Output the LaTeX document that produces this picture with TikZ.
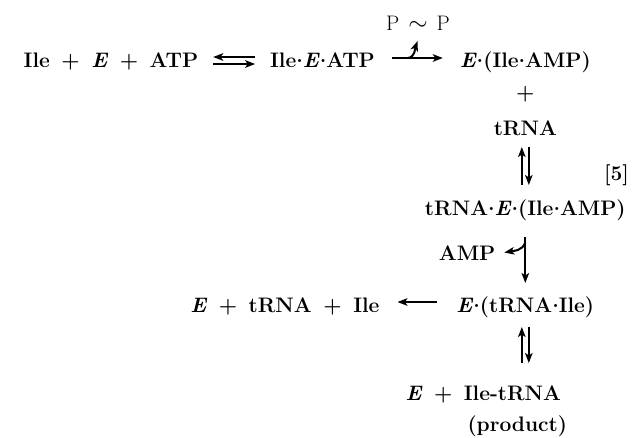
\documentclass[tikz,border=0pt]{standalone}
\usepackage{tikz}
\usetikzlibrary{arrows.meta,positioning}
\tikzset{
  node distance=0pt,
  >={Stealth[length=10pt,width=7.5pt,inset=2.5pt]},
  every node/.style={outer sep=0pt,inner sep=0pt}
}
\tikzset{species/.style={
    font=\fontsize{21}{25}\selectfont\bfseries,
    text height=15pt,
    text depth=5pt
  }}
\tikzset{minor/.style={
    font=\fontsize{21}{25}\selectfont,
    text height=14pt,
    text depth=4pt
  }}
\tikzset{rxn/.style={line width=2pt,->}}
\newcommand\rplus{\hspace{0.55em}+\hspace{0.55em}}
\newcommand\dt{\raisebox{0.22em}{.}}

\begin{document}
\begin{tikzpicture}
  \useasboundingbox (0,0) rectangle (643pt,-437pt);

  \node (ileE) [species] at (322.5pt,-62pt) {Ile\dt\textit{E}\dt ATP};
  \node (reactants) [species,left=72pt of ileE] {Ile\rplus\textit{E}\rplus ATP};
  \node (eIleAMP) [species,right=85pt of ileE] {\textit{E}\dt(Ile\dt AMP)};
  \node (ppi) [minor] at (418pt,-25pt) {P\hspace{9pt}{\fontsize{30}{30}\selectfont$\sim$}\hspace{9pt}P};

  \node (plus) [species,below=12pt of eIleAMP] {+};
  \node (tRNA) [species,below=16pt of plus] {tRNA};
  \node (trnaE) [species,below=60pt of tRNA] {tRNA\dt\textit{E}\dt(Ile\dt AMP)};
  \node (step5) [species] at (616.5pt,-175pt) {[5]};
  \node (eTrnaIle) [species,below=77pt of trnaE] {\textit{E}\dt(tRNA\dt Ile)};
  \node (products) [species,left=77pt of eTrnaIle] {\textit{E}\rplus tRNA\rplus Ile};
  \node (ileTRNA) [species,below=68pt of eTrnaIle,xshift=-42pt] {\textit{E}\rplus Ile-tRNA};
  \node (product) [species,below=11pt of ileTRNA,xshift=34pt] {(product)};

  % binding of Ile and ATP
  \draw [rxn] ([xshift=-15pt,yshift=5pt] ileE.west) -- ([xshift=15pt,yshift=5pt] reactants.east);
  \draw [rxn] ([xshift=15pt,yshift=-2pt] reactants.east) -- ([xshift=-15pt,yshift=-2pt] ileE.west);

  % activation, pyrophosphate leaves
  \draw [rxn] ([xshift=17pt,yshift=4pt] ileE.east)
  -- coordinate[pos=0.31] (ppiFork) ([xshift=-17pt,yshift=4pt] eIleAMP.west);
  \coordinate (ppiTip) at ([xshift=10pt,yshift=17pt] ppiFork);
  \draw [rxn] (ppiFork) to[out=5,in=-110] (ppiTip);

  % tRNA binding
  \draw [rxn] ([xshift=-3.5pt,yshift=15pt] trnaE.north) -- ([xshift=-3.5pt,yshift=-7pt] tRNA.south);
  \draw [rxn] ([xshift=3.5pt,yshift=-7pt] tRNA.south) -- ([xshift=3.5pt,yshift=15pt] trnaE.north);

  % transfer, AMP leaves
  \draw [rxn] ([yshift=-17pt] trnaE.south)
  -- coordinate[pos=0.12] (ampFork) ([yshift=14pt] eTrnaIle.north);
  \coordinate (ampTip) at ([xshift=-21pt,yshift=-10pt] ampFork);
  \draw [rxn] (ampFork) to[out=-110,in=10] (ampTip);
  \node (amp) [species,left=9pt of ampTip,yshift=-3pt] {AMP};

  % breakdown
  \draw [rxn] ([xshift=-19pt,yshift=5pt] eTrnaIle.west) -- ([xshift=18pt,yshift=5pt] products.east);

  % release of product
  \draw [rxn] ([xshift=-3.5pt,yshift=22pt] ileTRNA.north -| eTrnaIle.south)
  -- ([xshift=-3.5pt,yshift=-10pt] eTrnaIle.south);
  \draw [rxn] ([xshift=3.5pt,yshift=-10pt] eTrnaIle.south)
  -- ([xshift=3.5pt,yshift=22pt] ileTRNA.north -| eTrnaIle.south);
\end{tikzpicture}
\end{document}
